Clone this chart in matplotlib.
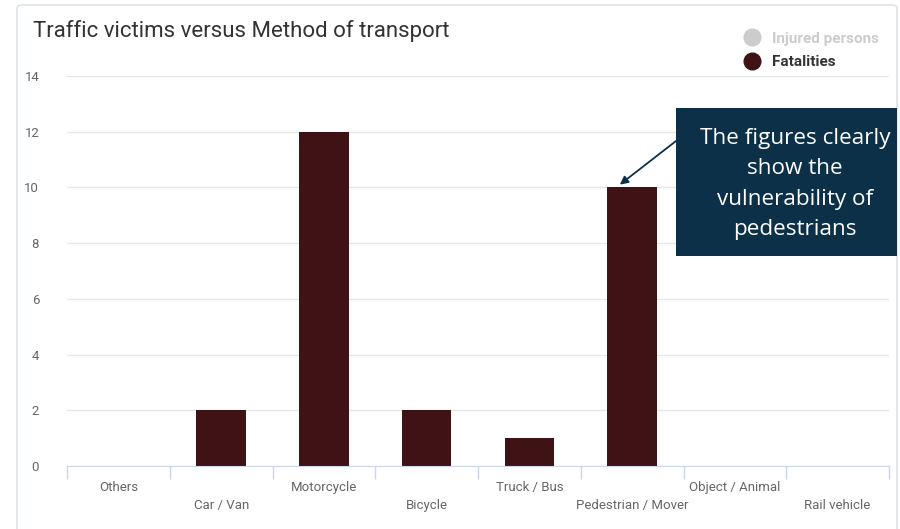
import matplotlib
matplotlib.use("Agg")
from matplotlib import pyplot as plt
from matplotlib.lines import Line2D
from matplotlib.patches import FancyBboxPatch, Rectangle

categories = ["Others", "Car / Van", "Motorcycle", "Bicycle", "Truck / Bus",
              "Pedestrian / Mover", "Object / Animal", "Rail vehicle"]
fatalities = [0, 2, 12, 2, 1, 10, 0, 0]
y_ticks = [0, 2, 4, 6, 8, 10, 12, 14]

W, H = 900, 529
fig = plt.figure(figsize=(W / 100, H / 100), dpi=100)

# card frame
fig.patches.append(FancyBboxPatch((17 / W, -0.05), 880 / W, 1 - 5 / H + 0.05,
                                  boxstyle="round,pad=0,rounding_size=0.006",
                                  transform=fig.transFigure, facecolor="white",
                                  edgecolor="#dde4ea", linewidth=1.2, zorder=-10))

ax = fig.add_axes([67 / W, 1 - 466 / H, 822 / W, 390 / H])
ax.set_facecolor("none")

x = list(range(len(categories)))
ax.bar(x, fatalities, width=0.48, color="#3f1216", zorder=3)

ax.set_xlim(-0.5, len(categories) - 0.5)
ax.set_ylim(0, 14)
ax.set_yticks(y_ticks)
ax.yaxis.grid(True, color="#e6e6e6", linewidth=1)
ax.set_axisbelow(True)
for s in ["top", "right", "left"]:
    ax.spines[s].set_visible(False)
ax.spines["bottom"].set_color("#ccd6eb")
ax.spines["bottom"].set_zorder(4)

labels = [c if i % 2 == 0 else "\n" + c for i, c in enumerate(categories)]
ax.set_xticks(x)
ax.set_xticklabels(labels, fontsize=9.5, color="#666666", family="Roboto",
                   linespacing=1.45)
ax.set_xticks([i - 0.5 for i in range(len(categories) + 1)], minor=True)
ax.tick_params(axis="x", which="major", length=0, pad=11)
ax.tick_params(axis="x", which="minor", length=9, color="#ccd6eb", width=1)
ax.tick_params(axis="y", length=0, pad=20, labelsize=9.5, labelcolor="#666666")
for t in ax.get_yticklabels():
    t.set_family("Roboto")

fig.text(33 / W, 1 - 31 / H, "Traffic victims versus Method of transport",
         fontsize=16, color="#333333", family="Roboto", va="center", ha="left")

handles = [Line2D([], [], marker="o", linestyle="", markersize=12, color="#cccccc"),
           Line2D([], [], marker="o", linestyle="", markersize=12, color="#3f1216")]
leg = fig.legend(handles, ["Injured persons", "Fatalities"], loc="upper right",
                 bbox_to_anchor=(893 / W, 1 - 18 / H), frameon=False,
                 handletextpad=0.3, labelspacing=0.6,
                 prop={"family": "Roboto", "size": 11, "weight": "bold"})
leg.get_texts()[0].set_color("#cccccc")
leg.get_texts()[1].set_color("#333333")

# callout
navy = "#0b3048"
fig.patches.append(Rectangle((676 / W, 1 - 256 / H), 221 / W, 148 / H,
                             transform=fig.transFigure, facecolor=navy,
                             edgecolor="none", zorder=5))
fig.text(795 / W, 1 - 184 / H,
         "The figures clearly\nshow the\nvulnerability of\npedestrians",
         ha="center", va="center", color="white", fontsize=16.2,
         family="Open Sans", linespacing=1.58, zorder=6)
ax.annotate("", xy=(4.88, 10.1), xycoords="data",
            xytext=(676 / W, 1 - 141 / H), textcoords="figure fraction",
            arrowprops=dict(arrowstyle="-|>", color=navy, lw=1.3,
                            mutation_scale=12, shrinkA=0, shrinkB=0),
            zorder=6, annotation_clip=False)

fig.savefig("out.png", dpi=100)
